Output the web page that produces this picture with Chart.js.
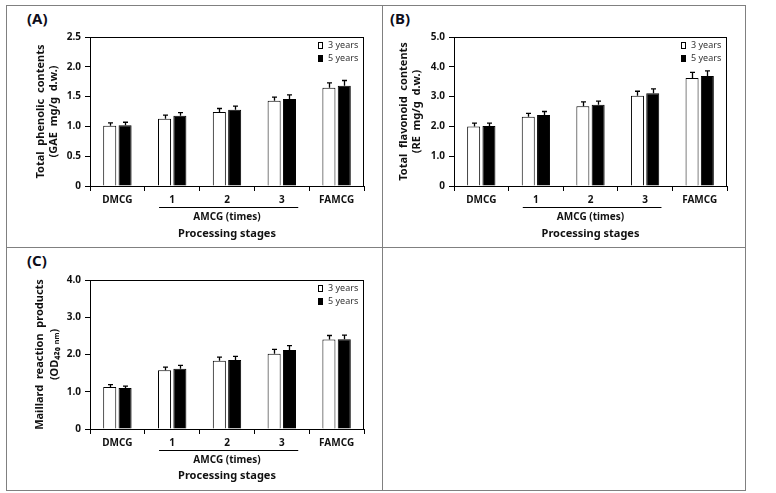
<!DOCTYPE html>
<html><head><meta charset="utf-8">
<script src="https://cdn.jsdelivr.net/npm/chart.js@4.4.1/dist/chart.umd.min.js"></script>
<style>
html,body{margin:0;padding:0;background:#fff;width:776px;height:493px;overflow:hidden;position:relative;font-family:"Noto Sans",sans-serif;}
.frame{position:absolute;border:1px solid #808080;box-sizing:border-box;}
.vl{position:absolute;background:#808080;width:1px;}
.hl{position:absolute;background:#808080;height:1px;}
.lbl{position:absolute;font-family:"Noto Sans",sans-serif;font-weight:bold;font-size:15px;color:#0d0d1a;line-height:15px;}
.cv{position:absolute;}
</style></head><body>
<div class="frame" style="left:6px;top:5px;width:740px;height:486px"></div>
<div class="vl" style="left:382px;top:5px;height:486px"></div>
<div class="hl" style="left:6px;top:247px;width:740px"></div>
<div class="lbl" style="left:27px;top:11px">(A)</div>
<div class="lbl" style="left:390px;top:11px">(B)</div>
<div class="lbl" style="left:27px;top:253px">(C)</div>
<canvas id="cA" class="cv" style="left:7px;top:6px" width="375" height="241"></canvas>
<canvas id="cB" class="cv" style="left:384px;top:6px" width="361" height="241"></canvas>
<canvas id="cC" class="cv" style="left:7px;top:249px" width="375" height="240"></canvas>
<script>
// ---- data ----
const categories = ['DMCG', '1', '2', '3', 'FAMCG'];
const seriesNames = ['3 years', '5 years'];
const groupLabel = 'AMCG (times)';
const xTitle = 'Processing stages';

const phenolic3 = [1.01, 1.13, 1.24, 1.43, 1.65];
const phenolic5 = [1.02, 1.18, 1.28, 1.46, 1.68];
const phenolicErr3 = [0.05, 0.06, 0.06, 0.06, 0.08];
const phenolicErr5 = [0.05, 0.05, 0.06, 0.07, 0.09];

const flavonoid3 = [2.00, 2.32, 2.68, 3.03, 3.62];
const flavonoid5 = [2.01, 2.38, 2.73, 3.11, 3.69];
const flavonoidErr3 = [0.11, 0.12, 0.14, 0.15, 0.19];
const flavonoidErr5 = [0.10, 0.12, 0.12, 0.15, 0.17];

const maillard3 = [1.13, 1.58, 1.83, 2.02, 2.40];
const maillard5 = [1.10, 1.62, 1.85, 2.12, 2.41];
const maillardErr3 = [0.06, 0.08, 0.10, 0.12, 0.11];
const maillardErr5 = [0.05, 0.09, 0.10, 0.12, 0.11];

const yTicksA = ['0', '0.5', '1.0', '1.5', '2.0', '2.5'];
const yTicksB = ['0', '1.0', '2.0', '3.0', '4.0', '5.0'];
const yTicksC = ['0', '1.0', '2.0', '3.0', '4.0'];

const yTitleA = ['Total  phenolic  contents', '(GAE  mg/g  d.w.)'];
const yTitleB = ['Total  flavonoid  contents', '(RE  mg/g  d.w.)'];
const yTitleC = ['Maillard  reaction  products', '(OD\u2084\u2082\u2080 \u2099\u2098)'];

// ---- rendering ----
const FAM = '"Noto Sans", sans-serif';
const TXT = '#111';

const extrasPlugin = {
  id: 'extras',
  afterDatasetsDraw(chart) {
    const ctx = chart.ctx;
    const ys = chart.scales.y;
    ctx.save();
    ctx.strokeStyle = '#000';
    ctx.lineWidth = 1.3;
    chart.data.datasets.forEach((ds, i) => {
      const meta = chart.getDatasetMeta(i);
      meta.data.forEach((bar, j) => {
        const yb = ys.getPixelForValue(ds.data[j]);
        const yt = ys.getPixelForValue(ds.data[j] + ds.errors[j]);
        const x = Math.round(bar.x) + 0.5;
        ctx.beginPath();
        ctx.moveTo(x, yb);
        ctx.lineTo(x, yt);
        ctx.moveTo(x - 2.5, yt);
        ctx.lineTo(x + 2.5, yt);
        ctx.stroke();
      });
    });
    ctx.restore();
  },
  afterDraw(chart) {
    const ctx = chart.ctx;
    const a = chart.chartArea;
    const xs = chart.scales.x;
    ctx.save();
    // plot frame
    ctx.strokeStyle = '#000';
    ctx.lineWidth = 1;
    ctx.strokeRect(Math.round(a.left) + 0.5, Math.round(a.top) + 0.5,
                   Math.round(a.right - a.left) - 1, Math.round(a.bottom - a.top));
    // legend inside plot area
    ctx.font = '9px ' + FAM;
    ctx.textBaseline = 'middle';
    ctx.textAlign = 'left';
    chart.data.datasets.forEach((ds, i) => {
      const cy = a.top + 8.5 + i * 13;
      const bx = Math.round(a.right - 46);
      const by = Math.round(cy - 3.5);
      if (i === 0) {
        ctx.fillStyle = '#fff';
        ctx.fillRect(bx, by, 5, 7);
        ctx.strokeRect(bx + 0.5, by + 0.5, 4, 6);
      } else {
        ctx.fillStyle = '#000';
        ctx.fillRect(bx, by, 5, 7);
      }
      ctx.fillStyle = '#333';
      ctx.fillText(ds.label, a.right - 36, cy);
    });
    // AMCG group bracket line and label
    const w = xs.getPixelForValue(1) - xs.getPixelForValue(0);
    const x1 = xs.getPixelForValue(1) - 0.24 * w;
    const x2 = xs.getPixelForValue(3) + 0.3 * w;
    const ly = Math.round(a.bottom + 21) + 0.5;
    ctx.beginPath();
    ctx.moveTo(x1, ly);
    ctx.lineTo(x2, ly);
    ctx.stroke();
    ctx.font = 'bold 10px ' + FAM;
    ctx.fillStyle = TXT;
    ctx.textAlign = 'center';
    ctx.fillText(groupLabel, xs.getPixelForValue(2), a.bottom + 31.5);
    ctx.restore();
  }
};

function makeChart(id, o) {
  return new Chart(document.getElementById(id), {
    type: 'bar',
    data: {
      labels: categories,
      datasets: [
        { label: seriesNames[0], data: o.v3, errors: o.e3, backgroundColor: '#fff', borderColor: '#000', borderWidth: 1,
          barPercentage: 0.85, categoryPercentage: 0.56 },
        { label: seriesNames[1], data: o.v5, errors: o.e5, backgroundColor: '#000', borderColor: '#000', borderWidth: 1,
          barPercentage: 0.85, categoryPercentage: 0.56 }
      ]
    },
    options: {
      responsive: false,
      animation: false,
      devicePixelRatio: 1,
      layout: { padding: { top: 31, right: o.padRight, left: 0, bottom: 0 } },
      plugins: { legend: { display: false }, tooltip: { enabled: false } },
      scales: {
        x: {
          grid: { display: true, offset: true, drawOnChartArea: false, drawTicks: true, tickLength: 5, color: '#000', lineWidth: 1 },
          border: { display: true, color: '#000', width: 1 },
          ticks: { font: { family: FAM, size: 10, weight: 'bold' }, color: TXT, padding: 3, maxRotation: 0, autoSkip: false },
          title: { display: true, text: xTitle, color: TXT, font: { family: FAM, size: 11, weight: 'bold' }, padding: { top: 0, bottom: 7 } },
          afterFit: s => { s.height = o.xHeight; }
        },
        y: {
          min: 0, max: o.yMax,
          grid: { display: true, drawOnChartArea: false, drawTicks: true, tickLength: 5, color: '#000', lineWidth: 1 },
          border: { display: true, color: '#000', width: 1 },
          ticks: { stepSize: o.yStep, autoSkip: false, padding: 4, color: TXT, font: { family: FAM, size: 10, weight: 'bold' },
                   callback: (v, i) => o.yTicks[i] },
          title: { display: true, text: o.yTitle, color: TXT, font: { family: FAM, size: 11, weight: 'bold', lineHeight: o.titleLH },
                   padding: { top: o.titlePad, bottom: 0 } },
          afterFit: s => { s.width = o.yWidth; }
        }
      }
    },
    plugins: [extrasPlugin]
  });
}

makeChart('cA', { v3: phenolic3, v5: phenolic5, e3: phenolicErr3, e5: phenolicErr5, yMax: 2.5, yStep: 0.5, yTicks: yTicksA,
  yTitle: yTitleA, titleLH: 1.2, titlePad: 27, yWidth: 83, padRight: 18, xHeight: 61 });
makeChart('cB', { v3: flavonoid3, v5: flavonoid5, e3: flavonoidErr3, e5: flavonoidErr5, yMax: 5, yStep: 1, yTicks: yTicksB,
  yTitle: yTitleB, titleLH: 1.2, titlePad: 13, yWidth: 70, padRight: 18, xHeight: 61 });
makeChart('cC', { v3: maillard3, v5: maillard5, e3: maillardErr3, e5: maillardErr5, yMax: 4, yStep: 1, yTicks: yTicksC,
  yTitle: yTitleC, titleLH: 1.4, titlePad: 25, yWidth: 83, padRight: 18, xHeight: 60 });
</script>
</body></html>
